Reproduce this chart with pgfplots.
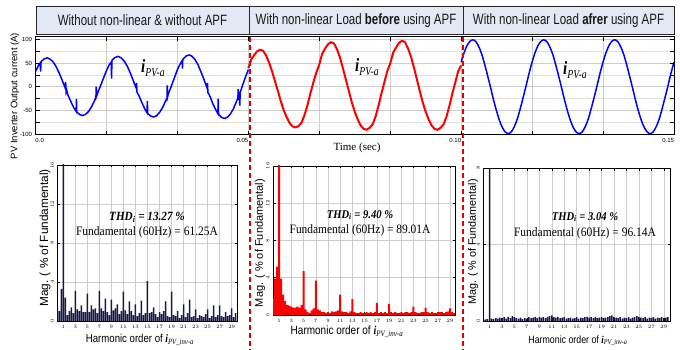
\documentclass[border=0pt]{standalone}
\usepackage{pgfplots}
\pgfplotsset{compat=1.18}
\usepackage{graphicx}
\usepackage{fontspec}
\setmainfont{Liberation Serif}
\setsansfont{Liberation Sans}
\definecolor{hdr}{RGB}{226,233,244}
\definecolor{navy}{RGB}{22,22,72}
\definecolor{gridc}{RGB}{205,205,205}
\newcommand{\myfs}[1]{\fontsize{#1}{#1}\selectfont}
\pgfplotsset{
  barchart/.style={
    anchor=south west, scale only axis,
    xmin=0, xmax=30, ymin=0,
    xtick={1,3,...,29},
    grid=major, major grid style={gridc, line width=0.5pt},
    tick align=inside, major tick length=2.5pt,
    tick style={black, line width=0.5pt},
    ticklabel style={font=\myfs{5}},
    yticklabel style={rotate=90, anchor=south},
    xticklabel style={yshift=-1pt},
    axis line style={line width=0.9pt},
  }
}
\begin{document}
\begin{tikzpicture}
\useasboundingbox (0pt,0pt) rectangle (680pt,350pt);

% header boxes
\draw[fill=hdr, draw=black!85, line width=1pt] (36pt,315.7pt) rectangle (249pt,343.3pt);
\draw[fill=hdr, draw=black!85, line width=1pt] (249pt,315.7pt) rectangle (463pt,343.3pt);
\draw[fill=hdr, draw=black!85, line width=1pt] (463pt,315.7pt) rectangle (674pt,343.3pt);
\node[text=black!90] at (142.5pt,329.5pt) {\scalebox{1}[1.3]{\sffamily\myfs{11.5}Without non-linear \& without APF}};
\node[text=black!90] at (356pt,329.5pt) {\scalebox{1}[1.3]{\sffamily\myfs{11.5}With non-linear Load \textbf{before} using APF}};
\node[text=black!90] at (568.5pt,329.5pt) {\scalebox{1}[1.3]{\sffamily\myfs{11.5}With non-linear Load \textbf{afrer} using APF}};

% top waveform axis (time in ms, labelled in s)
\begin{axis}[
  at={(35.5pt,215pt)}, anchor=south west, scale only axis,
  width=638.5pt, height=98pt,
  xmin=0, xmax=150, ymin=-102, ymax=105,
  xtick={0,16.667,33.333,50,66.667,83.333,100,116.667,133.333,150},
  xticklabels={\rlap{0.0},,,\llap{0.05},,,\llap{0.10},,,\llap{0.15}},
  ytick={-100,-50,0,50,100}, minor ytick={-75,-25,25,75},
  grid=both, major grid style={gridc, line width=0.6pt},
  minor grid style={gridc!60, line width=0.5pt},
  tick align=inside, major tick length=4pt, minor tick length=4pt,
  tick style={black, line width=0.6pt},
  axis line style={line width=1pt},
  ticklabel style={font=\sffamily\myfs{6}},
  /pgf/number format/assume math mode=true,
]
\addplot[blue, line width=1.5pt] coordinates {
(0,32) (0.694,45) (1.1,50) (1.2,32) (1.3,52) (1.389,54) (2.083,59) (2.778,61) (3.472,58) (4.167,52) (4.861,42) (5.556,29) (6.25,14) (6.944,-2) (7.08,10) (7.2,-12) (7.35,-8) (7.639,-18) (8.333,-32) (9.028,-45) (9.55,-52) (9.62,-26) (9.7,-54) (9.722,-54) (10.417,-59) (11.111,-61) (11.806,-58) (12.5,-52) (13.194,-42) (13.889,-29) (14.2,-22) (14.27,0) (14.35,-20) (14.583,-14) (15.278,2) (15.972,18)
(16.667,34) (17.361,47) (17.8,52) (17.87,17) (17.95,54) (18.056,57) (18.75,62) (19.444,64) (20.139,61) (20.833,54) (21.528,44) (22.222,30) (22.917,14) (23.611,-2) (23.75,8) (23.85,-12) (24.306,-19) (25,-34) (25.694,-47) (26.2,-55) (26.28,-30) (26.36,-57) (26.389,-57) (27.083,-62) (27.778,-64) (28.472,-61) (29.167,-54) (29.861,-44) (30.556,-30) (30.9,-24) (30.95,3) (31.02,-22) (31.25,-14) (31.944,2) (32.639,19)
(33.333,36) (34.028,49) (34.45,55) (34.52,38) (34.6,57) (34.722,59) (35.417,65) (36.111,67) (36.806,64) (37.5,57) (38.194,46) (38.889,31) (39.583,15) (40.278,-2) (40.4,8) (40.5,-12) (40.972,-20) (41.667,-36) (42.361,-49) (42.85,-57) (42.92,-25) (43,-58) (43.056,-59) (43.75,-65) (44.444,-67) (45.139,-64) (45.833,-57) (46.528,-46) (47.222,-31) (47.55,-24) (47.62,-5) (47.7,-28) (47.9,-16) (48,-40) (48.08,-12) (48.611,2) (49.306,20) (50,36)
};
\addplot[red, line width=2pt] coordinates {
(50,39) (50.694,58) (51.389,67) (52.083,75) (52.778,78) (53.472,76) (54.167,66) (54.861,51) (55.556,33) (56.25,12) (56.944,-9) (57.639,-31) (58.333,-50) (59.028,-65) (59.722,-77) (60.417,-84) (61.111,-86) (61.806,-83) (62.5,-76) (63.194,-60) (63.889,-39) (64.583,-14) (65.278,9) (65.972,30)
(66.667,47) (67.361,70) (68.056,81) (68.75,90) (69.444,94) (70.139,91) (70.833,79) (71.528,62) (72.222,39) (72.917,15) (73.611,-9) (74.306,-33) (75,-53) (75.694,-69) (76.389,-82) (77.083,-89) (77.778,-91) (78.472,-87) (79.167,-80) (79.861,-64) (80.556,-41) (81.25,-15) (81.944,9) (82.639,33)
(83.333,49) (84.028,72) (84.722,83) (85.417,93) (86.111,97) (86.806,94) (87.5,81) (88.194,64) (88.889,41) (89.583,16) (90.278,-9) (90.972,-33) (91.667,-53) (92.361,-69) (93.056,-82) (93.75,-89) (94.444,-91) (95.139,-87) (95.833,-80) (96.528,-64) (97.222,-41) (97.917,-15) (98.611,9) (99.306,33) (100,45)
};
\addplot[blue, line width=1.5pt, smooth] coordinates {
(100,52) (100.694,72) (101.389,87) (102.083,96) (102.778,99) (103.472,95) (104.167,84) (104.861,68) (105.556,46) (106.25,22) (106.944,-3) (107.639,-29) (108.333,-52) (109.028,-72) (109.722,-87) (110.417,-96) (111.111,-99) (111.806,-95) (112.5,-84) (113.194,-68) (113.889,-46) (114.583,-22) (115.278,3) (115.972,29)
(116.667,52) (117.361,72) (118.056,87) (118.75,96) (119.444,99) (120.139,95) (120.833,84) (121.528,68) (122.222,46) (122.917,22) (123.611,-3) (124.306,-29) (125,-52) (125.694,-72) (126.389,-87) (127.083,-96) (127.778,-99) (128.472,-95) (129.167,-84) (129.861,-68) (130.556,-46) (131.25,-22) (131.944,3) (132.639,29)
(133.333,52) (134.028,72) (134.722,87) (135.417,96) (136.111,99) (136.806,95) (137.5,84) (138.194,68) (138.889,46) (139.583,22) (140.278,-3) (140.972,-29) (141.667,-52) (142.361,-72) (143.056,-87) (143.75,-96) (144.444,-99) (145.139,-95) (145.833,-84) (146.528,-68) (147.222,-46) (147.917,-22) (148.611,3) (149.306,29) (150,52)
};
\end{axis}

% harmonic spectrum 1
\begin{axis}[barchart, at={(57.3pt,29pt)}, width=180.4pt, height=156pt, ymax=16, ytick={0,4,8,12,16}]
\addplot[ybar, bar width=1.5pt, fill=navy, draw=none] coordinates {
(0,1.5) (0.333,1.0) (0.667,3.3) (1,20) (1.333,2.4) (1.667,0.6) (2,1.0) (2.333,1.4) (2.667,0.8) (3,3.1) (3.333,1.2) (3.667,1.0) (4,1.6) (4.333,0.9) (4.667,0.9) (5,2.8) (5.333,0.9) (5.667,1.6) (6,1.2) (6.333,1.3) (6.667,0.8) (7,3.1) (7.333,1.3) (7.667,1.0) (8,2.3) (8.333,0.9) (8.667,0.6) (9,2.2) (9.333,1.1) (9.667,1.3) (10,1.7) (10.333,0.7) (10.667,1.0) (11,3.0) (11.333,1.1) (11.667,0.7) (12,2.0) (12.333,1.0) (12.667,0.6) (13,1.7) (13.333,0.5) (13.667,0.8) (14,2.1) (14.333,0.6) (14.667,0.8) (15,4.1) (15.333,0.8) (15.667,0.9) (16,1.4) (16.333,0.7) (16.667,0.4) (17,0.9) (17.333,0.7) (17.667,1.0) (18,2.0) (18.333,0.5) (18.667,0.4) (19,3.0) (19.333,0.6) (19.667,0.5) (20,1.0) (20.333,0.3) (20.667,0.6) (21,1.7) (21.333,0.4) (21.667,0.8) (22,2.2) (22.333,0.4) (22.667,0.5) (23,1.2) (23.333,0.3) (23.667,0.6) (24,0.5) (24.333,0.4) (24.667,0.7) (25,1.2) (25.333,0.3) (25.667,0.5) (26,1.6) (26.333,0.4) (26.667,0.6) (27,1.6) (27.333,0.5) (27.667,0.4) (28,0.9) (28.333,0.5) (28.667,0.6) (29,1.3) (29.333,0.4) (29.667,0.8)
};
\end{axis}

% harmonic spectrum 2
\begin{axis}[barchart, at={(273pt,35pt)}, width=182pt, height=149pt, xmax=29.8, ymax=16, ytick={0,4,8,12,16}]
\addplot[ybar, bar width=2pt, fill=red, draw=none] coordinates {
(0,1.8) (0.333,3.9) (0.667,5.2) (1,20) (1.333,3.9) (1.667,2.2) (2,1.5) (2.333,1.1) (2.667,1.0) (3,0.9) (3.333,0.8) (3.667,0.8) (4,0.9) (4.333,0.8) (4.667,1.1) (5,4.7) (5.333,0.6) (5.667,0.3) (6,0.2) (6.333,0.5) (6.667,0.7) (7,3.7) (7.333,0.6) (7.667,0.5) (8,0.3) (8.333,0.3) (8.667,0.2) (9,0.3) (9.333,0.2) (9.667,0.4) (10,0.3) (10.333,0.4) (10.667,0.5) (11,2.2) (11.333,0.4) (11.667,0.3) (12,0.3) (12.333,0.2) (12.667,0.4) (13,1.7) (13.333,0.3) (13.667,0.2) (14,0.2) (14.333,0.3) (14.667,0.2) (15,0.2) (15.333,0.3) (15.667,0.2) (16,0.3) (16.333,0.2) (16.667,0.3) (17,1.3) (17.333,0.2) (17.667,0.3) (18,0.2) (18.333,0.3) (18.667,0.2) (19,1.2) (19.333,0.3) (19.667,0.2) (20,0.3) (20.333,0.2) (20.667,0.2) (21,0.3) (21.333,0.2) (21.667,0.3) (22,0.3) (22.333,0.2) (22.667,0.3) (23,0.9) (23.333,0.3) (23.667,0.2) (24,0.2) (24.333,0.3) (24.667,0.3) (25,0.8) (25.333,0.3) (25.667,0.2) (26,0.3) (26.333,0.2) (26.667,0.2) (27,0.3) (27.333,0.3) (27.667,0.3) (28,0.2) (28.333,0.3) (28.667,0.4) (29,0.7) (29.333,0.3) (29.667,0.2)
};
\end{axis}

% harmonic spectrum 3
\begin{axis}[barchart, at={(483.3pt,29pt)}, width=186.7pt, height=153pt, ymax=8, ytick={0,4,8}]
\addplot[ybar, bar width=1.5pt, fill=navy, draw=none] coordinates {
(0,0.05) (0.333,0.08) (0.667,0.1) (1,20) (1.333,0.12) (1.667,0.1) (2,0.15) (2.333,0.12) (2.667,0.18) (3,0.15) (3.333,0.2) (3.667,0.12) (4,0.22) (4.333,0.15) (4.667,0.25) (5,0.2) (5.333,0.15) (5.667,0.12) (6,0.18) (6.333,0.1) (6.667,0.15) (7,0.12) (7.333,0.2) (7.667,0.15) (8,0.18) (8.333,0.22) (8.667,0.15) (9,0.2) (9.333,0.18) (9.667,0.2) (10,0.15) (10.333,0.22) (10.667,0.25) (11,0.3) (11.333,0.2) (11.667,0.18) (12,0.22) (12.333,0.15) (12.667,0.18) (13,0.2) (13.333,0.12) (13.667,0.15) (14,0.18) (14.333,0.12) (14.667,0.15) (15,0.2) (15.333,0.12) (15.667,0.18) (16,0.15) (16.333,0.2) (16.667,0.22) (17,0.18) (17.333,0.2) (17.667,0.15) (18,0.22) (18.333,0.15) (18.667,0.18) (19,0.2) (19.333,0.15) (19.667,0.18) (20,0.2) (20.333,0.25) (20.667,0.3) (21,0.22) (21.333,0.18) (21.667,0.15) (22,0.2) (22.333,0.12) (22.667,0.18) (23,0.15) (23.333,0.2) (23.667,0.12) (24,0.18) (24.333,0.2) (24.667,0.25) (25,0.22) (25.333,0.18) (25.667,0.15) (26,0.2) (26.333,0.12) (26.667,0.18) (27,0.15) (27.333,0.2) (27.667,0.12) (28,0.18) (28.333,0.15) (28.667,0.2) (29,0.15) (29.333,0.18) (29.667,0.2)
};
\end{axis}

% labels
\node[rotate=90] at (15pt,254pt) {\sffamily\myfs{9.5}PV Inverter Output current (A)};
\node at (357pt,202pt) {\rmfamily\myfs{11}Time (sec)};
\node[anchor=west, inner sep=0pt] at (141pt,282pt) {\scalebox{1}[1.25]{\rmfamily{\bfseries\itshape\myfs{15}i}{\itshape\myfs{9.7}\raisebox{-3pt}{PV-a}}}};
\node[anchor=west, inner sep=0pt] at (355pt,283pt) {\scalebox{1}[1.25]{\rmfamily{\bfseries\itshape\myfs{15}i}{\itshape\myfs{9.7}\raisebox{-3pt}{PV-a}}}};
\node[anchor=west, inner sep=0pt] at (563pt,280pt) {\scalebox{1}[1.25]{\rmfamily{\bfseries\itshape\myfs{15}i}{\itshape\myfs{9.7}\raisebox{-3pt}{PV-a}}}};

\node at (147pt,133pt) {\scalebox{1}[1.12]{\rmfamily\bfseries\itshape\myfs{11.2}THD\textsubscript{i} = 13.27 \%}};
\node at (147pt,118pt) {\scalebox{1}[1.12]{\rmfamily\myfs{11.5}Fundamental (60Hz) = 61.25A}};
\node at (360pt,135pt) {\scalebox{1}[1.12]{\rmfamily\bfseries\itshape\myfs{10.6}THD\textsubscript{i} = 9.40 \%}};
\node at (360pt,120pt) {\scalebox{1}[1.12]{\rmfamily\myfs{11.4}Fundamental (60Hz) = 89.01A}};
\node at (585pt,133pt) {\scalebox{1}[1.12]{\rmfamily\bfseries\itshape\myfs{10.6}THD\textsubscript{i} = 3.04 \%}};
\node at (585pt,117pt) {\scalebox{1}[1.12]{\rmfamily\myfs{11.5}Fundamental (60Hz) = 96.14A}};

\node[rotate=90] at (45pt,112pt) {\sffamily\myfs{11.8}Mag. ( \% of Fundamental)};
\node[rotate=90] at (260pt,107pt) {\sffamily\myfs{11}Mag. ( \% of Fundamental)};
\node[rotate=90] at (473pt,108pt) {\sffamily\myfs{10.8}Mag. ( \% of Fundamental)};

\node at (140pt,10pt) {\scalebox{1}[1.2]{\sffamily\myfs{9.6}Harmonic order of {\rmfamily\bfseries\itshape i\textsubscript{\mdseries PV\_inv-a}}}};
\node at (347pt,18pt) {\scalebox{1}[1.2]{\sffamily\myfs{10}Harmonic order of {\rmfamily\bfseries\itshape i\textsubscript{\mdseries PV\_inv-a}}}};
\node at (578pt,9pt) {\scalebox{1}[1.2]{\sffamily\myfs{8.8}Harmonic order of {\rmfamily\bfseries\itshape i\textsubscript{\mdseries PV\_inv-a}}}};

% separators
\draw[red!90!black, line width=1.2pt, dash pattern=on 5pt off 3pt] (250pt,313pt) -- (250pt,0pt);
\draw[red!90!black, line width=1.2pt, dash pattern=on 5pt off 3pt] (463pt,313pt) -- (463pt,0pt);
\end{tikzpicture}
\end{document}
